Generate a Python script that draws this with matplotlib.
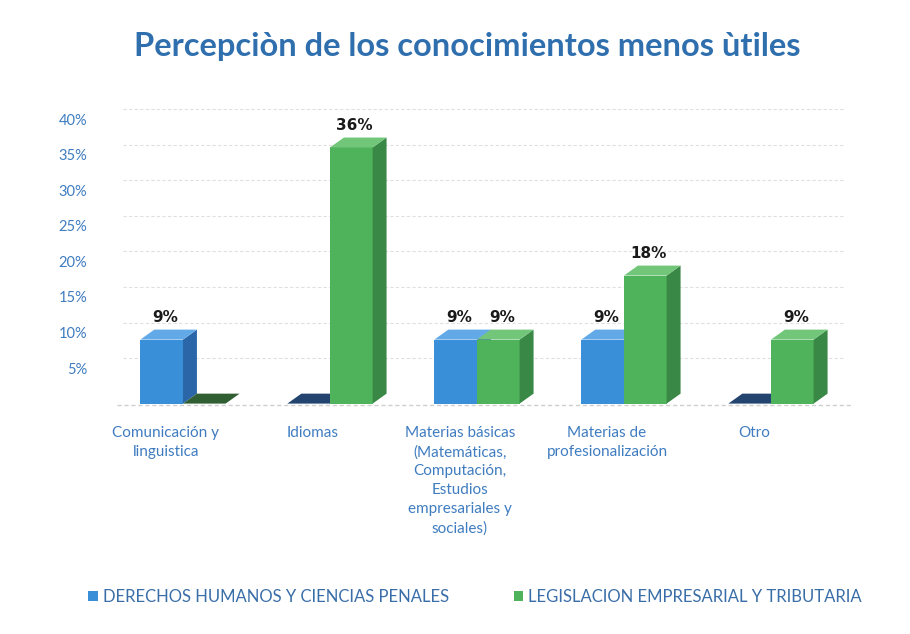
import matplotlib.pyplot as plt
import numpy as np
from matplotlib.patches import Polygon, Patch
from matplotlib.transforms import ScaledTranslation

categories = [
    "Comunicación y\nlinguistica",
    "Idiomas",
    "Materias básicas\n(Matemáticas,\nComputación,\nEstudios\nempresariales y\nsociales)",
    "Materias de\nprofesionalización",
    "Otro",
]
derechos = [0.09, 0.0, 0.09, 0.09, 0.0]
legislacion = [0.0, 0.36, 0.09, 0.18, 0.09]
series_names = ["DERECHOS HUMANOS Y CIENCIAS PENALES",
                "LEGISLACION EMPRESARIAL Y TRIBUTARIA"]
yticks = [0.05, 0.10, 0.15, 0.20, 0.25, 0.30, 0.35, 0.40]

# colours: front, side, top, flat (zero bar)
blue = ["#3a8fd9", "#2b67a8", "#62a9e8", "#22446e"]
green = ["#4fb35b", "#3a8845", "#72c67a", "#2f5f33"]
text_blue = "#3f7cc0"


def bar3d(ax, x0, w, h, cols, dx, dy):
    if h > 0:
        ax.add_patch(Polygon([(x0, 0), (x0 + w, 0), (x0 + w, h), (x0, h)],
                             closed=True, fc=cols[0], ec="none"))
        ax.add_patch(Polygon([(x0 + w, 0), (x0 + w + dx, dy), (x0 + w + dx, h + dy),
                              (x0 + w, h)], closed=True, fc=cols[1], ec="none"))
        top = cols[2]
    else:
        top = cols[3]
    ax.add_patch(Polygon([(x0, h), (x0 + w, h), (x0 + w + dx, h + dy),
                          (x0 + dx, h + dy)], closed=True, fc=top, ec="none"))


def main() -> None:
    plt.rcParams["font.family"] = ["Lato", "DejaVu Sans"]
    fig = plt.figure(figsize=(9.1, 6.34), dpi=100)
    ax = fig.add_axes([0.1203, 0.3634, 0.8077, 0.4713])

    x = np.arange(len(categories))
    w = 0.29
    dx, dy = 0.095, 0.014

    ax.set_xlim(-0.5, len(categories) - 0.5)
    ax.set_ylim(0, 0.42)

    for t in yticks:
        ax.plot([-0.5 + dx, len(categories) - 0.5], [t + dy, t + dy],
                color="#e0e0e0", lw=0.8, ls=(0, (3, 2)), zorder=0)
    ax.plot([-0.45, len(categories) - 0.45], [-0.002, -0.002],
            color="#cfcfcf", lw=1.0, ls=(0, (3, 2)), zorder=0, clip_on=False)

    for i in x:
        bar3d(ax, i - w, w, derechos[i], blue, dx, dy)
        bar3d(ax, i, w, legislacion[i], green, dx, dy)
        for x0, v in ((i - w, derechos[i]), (i, legislacion[i])):
            if v > 0:
                ax.text(x0 + w / 2 + dx / 4, v + dy + 0.006, f"{v * 100:.0f}%",
                        ha="center", va="bottom", fontsize=11, fontweight="bold",
                        family="DejaVu Sans", color="#1a1a1a")

    ax.set_yticks(yticks)
    ax.set_yticklabels([f"{t * 100:.0f}%" for t in yticks], color=text_blue, fontsize=10.5)
    ax.tick_params(axis="y", length=0, pad=16)
    ax.set_xticks(x)
    ax.set_xticklabels(categories, color=text_blue, fontsize=11, linespacing=1.45, va="top")
    ax.tick_params(axis="x", length=0, pad=16)
    off = ScaledTranslation(-17 / 100, 0, fig.dpi_scale_trans)
    for lab in ax.get_xticklabels():
        lab.set_transform(lab.get_transform() + off)
    for s in ax.spines.values():
        s.set_visible(False)

    fig.text(0.514, 0.927, "Percepciòn de los conocimientos menos ùtiles",
             ha="center", va="center", fontsize=23.5, fontweight="bold", color="#2f6fae")

    handles = [Patch(fc=blue[0]), Patch(fc=green[0])]
    leg = fig.legend(handles, series_names, loc="center", bbox_to_anchor=(0.522, 0.058),
                     ncol=2, frameon=False, fontsize=12, handlelength=0.55,
                     handleheight=0.55, handletextpad=0.3, columnspacing=3.9)
    for t in leg.get_texts():
        t.set_color("#3a6ea8")

    fig.savefig("out.png", dpi=100)


if __name__ == '__main__':
    main()
